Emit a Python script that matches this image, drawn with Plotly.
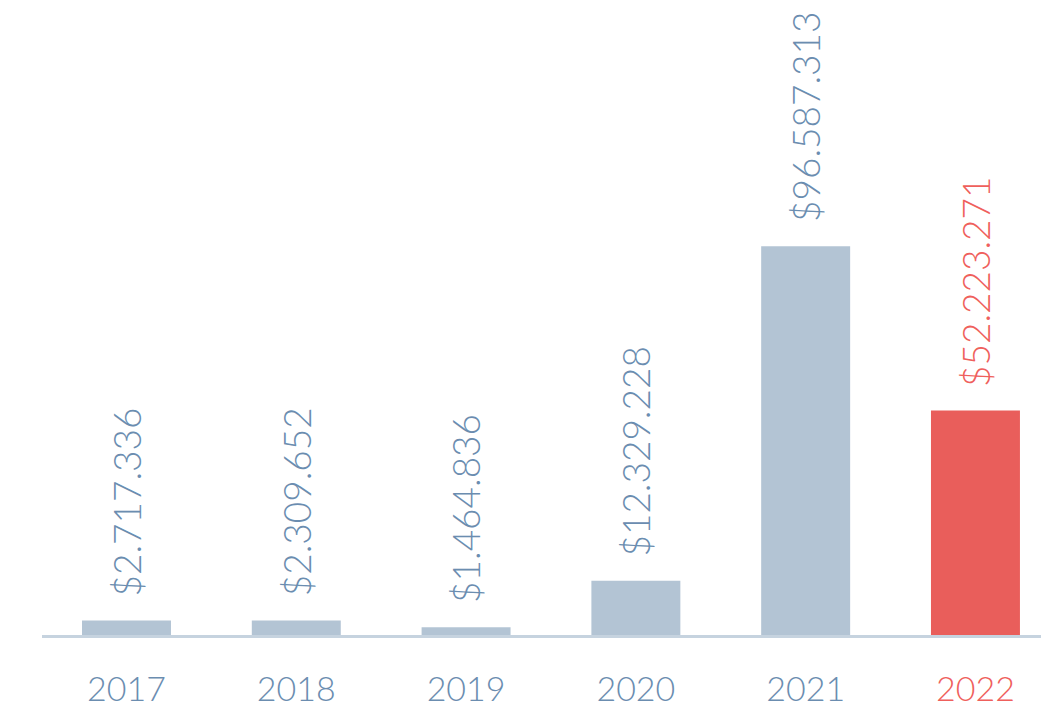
import plotly.graph_objects as go

years = ["2017", "2018", "2019", "2020", "2021", "2022"]
# bar heights as drawn in the reference (millions)
bar_heights_m = [3.6, 3.6, 1.9, 13.5, 96.6, 55.8]
# value labels as printed in the reference
labels = ["$2.717.336", "$2.309.652", "$1.464.836", "$12.329.228", "$96.587.313", "$52.223.271"]

BLUE_BAR = "#b3c4d4"
RED_BAR = "#e95e5b"
BLUE_TXT = "#6b8db0"
RED_TXT = "#ef605c"

bar_colors = [RED_BAR if y == "2022" else BLUE_BAR for y in years]
txt_colors = [RED_TXT if y == "2022" else BLUE_TXT for y in years]

FONT = "Lato"

fig = go.Figure()
fig.add_trace(go.Bar(
    x=years, y=bar_heights_m, marker=dict(color=bar_colors, line=dict(width=0)),
    width=0.524, hoverinfo="skip",
))

annotations = []
for i, (v, lab, c) in enumerate(zip(bar_heights_m, labels, txt_colors)):
    annotations.append(dict(
        x=i, y=v, xref="x", yref="y", text=lab, textangle=-90, showarrow=False,
        xanchor="center", yanchor="bottom", yshift=22,
        font=dict(family=FONT, size=37, color=c, weight=300),
    ))

fig.update_layout(
    width=1041, height=704,
    margin=dict(l=42, r=0, t=0, b=69),
    paper_bgcolor="white", plot_bgcolor="white",
    showlegend=False,
    annotations=annotations,
    xaxis=dict(
        type="category", range=[-0.4976, 5.386], automargin=False,
        showline=True, linecolor="#c6d3df", linewidth=3,
        showgrid=False, zeroline=False,
        ticks="", ticklabelstandoff=22,
        tickfont=dict(family=FONT, size=34, color=BLUE_TXT, weight=300),
        tickmode="array", tickvals=years,
        ticktext=[f'<span style="color:{c}">{y}</span>' for y, c in zip(years, txt_colors)],
    ),
    yaxis=dict(
        range=[0, 157.8], visible=False, showgrid=False, zeroline=False,
        automargin=False,
    ),
)

fig.write_html("out.html", config={"displayModeBar": False},
               post_script="document.body.style.margin='0';")
